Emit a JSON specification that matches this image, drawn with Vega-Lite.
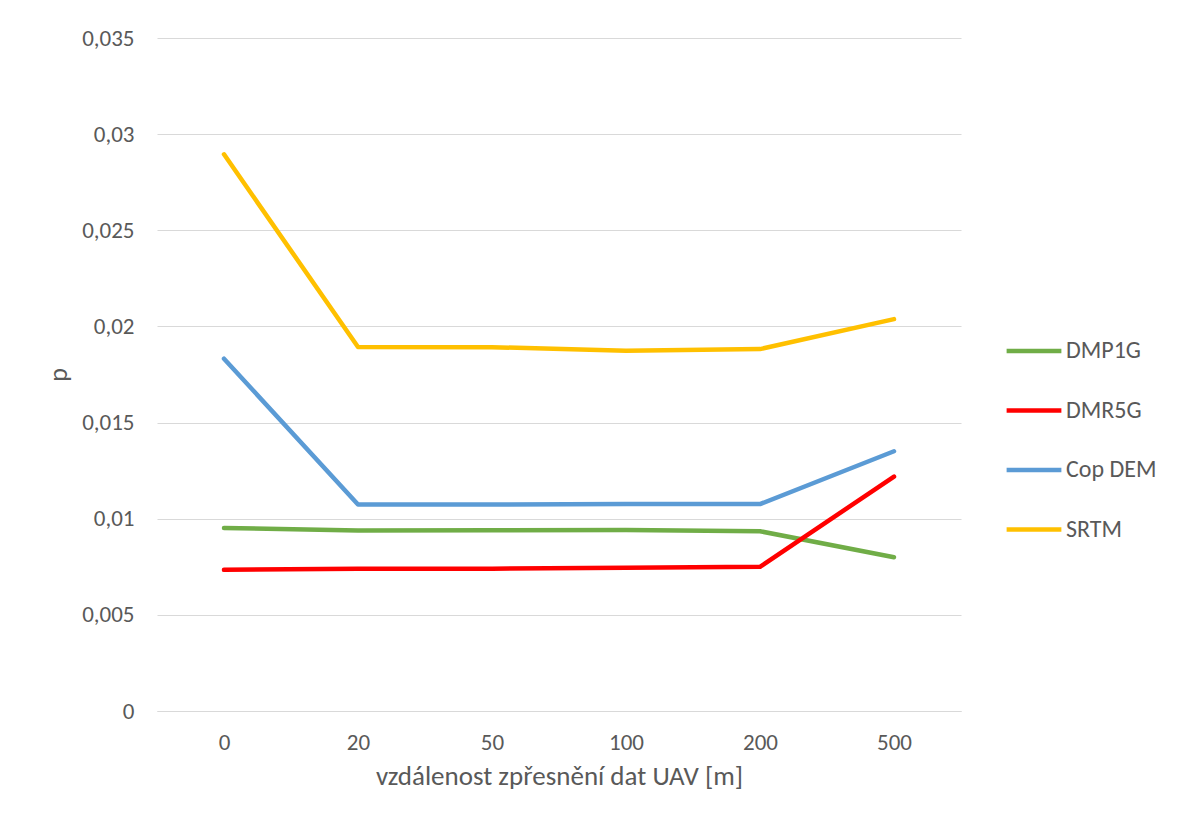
{
  "$schema": "https://vega.github.io/schema/vega-lite/v6.json",
  "width": 804,
  "height": 673,
  "autosize": {"type": "none"},
  "padding": {"left": 157, "top": 38, "right": 216, "bottom": 114},
  "background": "white",
  "config": {
    "view": {"stroke": null},
    "font": "Carlito, Lato",
    "axis": {"labelColor": "#595959", "titleColor": "#595959", "labelFont": "Carlito, Lato", "titleFont": "Carlito, Lato", "titleFontWeight": "normal"},
    "legend": {"labelColor": "#595959", "labelFont": "Carlito, Lato"}
  },
  "data": {
    "values": [
      {"vzdalenost": "0", "model": "DMP1G", "p": 0.00952},
      {"vzdalenost": "20", "model": "DMP1G", "p": 0.00939},
      {"vzdalenost": "50", "model": "DMP1G", "p": 0.00940},
      {"vzdalenost": "100", "model": "DMP1G", "p": 0.00941},
      {"vzdalenost": "200", "model": "DMP1G", "p": 0.00935},
      {"vzdalenost": "500", "model": "DMP1G", "p": 0.00800},
      {"vzdalenost": "0", "model": "DMR5G", "p": 0.00734},
      {"vzdalenost": "20", "model": "DMR5G", "p": 0.00740},
      {"vzdalenost": "50", "model": "DMR5G", "p": 0.00740},
      {"vzdalenost": "100", "model": "DMR5G", "p": 0.00745},
      {"vzdalenost": "200", "model": "DMR5G", "p": 0.00750},
      {"vzdalenost": "500", "model": "DMR5G", "p": 0.01219},
      {"vzdalenost": "0", "model": "Cop DEM", "p": 0.01832},
      {"vzdalenost": "20", "model": "Cop DEM", "p": 0.01074},
      {"vzdalenost": "50", "model": "Cop DEM", "p": 0.01074},
      {"vzdalenost": "100", "model": "Cop DEM", "p": 0.01077},
      {"vzdalenost": "200", "model": "Cop DEM", "p": 0.01076},
      {"vzdalenost": "500", "model": "Cop DEM", "p": 0.01351},
      {"vzdalenost": "0", "model": "SRTM", "p": 0.02895},
      {"vzdalenost": "20", "model": "SRTM", "p": 0.01893},
      {"vzdalenost": "50", "model": "SRTM", "p": 0.01892},
      {"vzdalenost": "100", "model": "SRTM", "p": 0.01874},
      {"vzdalenost": "200", "model": "SRTM", "p": 0.01882},
      {"vzdalenost": "500", "model": "SRTM", "p": 0.02038}
    ]
  },
  "mark": {"type": "line", "strokeWidth": 4.5, "strokeCap": "round", "strokeJoin": "round"},
  "encoding": {
    "x": {
      "field": "vzdalenost",
      "type": "ordinal",
      "sort": ["0", "20", "50", "100", "200", "500"],
      "scale": {"type": "point", "padding": 0.5},
      "axis": {
        "title": "vzdálenost zpřesnění dat UAV [m]",
        "titleFontSize": 27,
        "titlePadding": 9,
        "labelFontSize": 23,
        "labelAngle": 0,
        "labelPadding": 20,
        "ticks": false,
        "grid": false,
        "domainColor": "#D9D9D9",
        "domainWidth": 1
      }
    },
    "y": {
      "field": "p",
      "type": "quantitative",
      "scale": {"domain": [0, 0.035], "nice": false},
      "axis": {
        "title": "p",
        "titleFontSize": 26,
        "titlePadding": 10,
        "values": [0, 0.005, 0.01, 0.015, 0.02, 0.025, 0.03, 0.035],
        "labelExpr": "replace(format(datum.value, '~g'), '.', ',')",
        "labelFontSize": 23,
        "labelPadding": 23,
        "ticks": false,
        "domain": false,
        "gridColor": "#D9D9D9",
        "gridWidth": 1
      }
    },
    "color": {
      "field": "model",
      "type": "nominal",
      "scale": {
        "domain": ["DMP1G", "DMR5G", "Cop DEM", "SRTM"],
        "range": ["#70AD47", "#FF0000", "#5B9BD5", "#FFC000"]
      },
      "legend": {
        "title": null,
        "orient": "none",
        "legendX": 847,
        "legendY": 283,
        "symbolType": "stroke",
        "symbolSize": 3000,
        "symbolStrokeWidth": 4.5,
        "labelFontSize": 24,
        "labelOffset": 2,
        "rowPadding": 17.5
      }
    }
  }
}
